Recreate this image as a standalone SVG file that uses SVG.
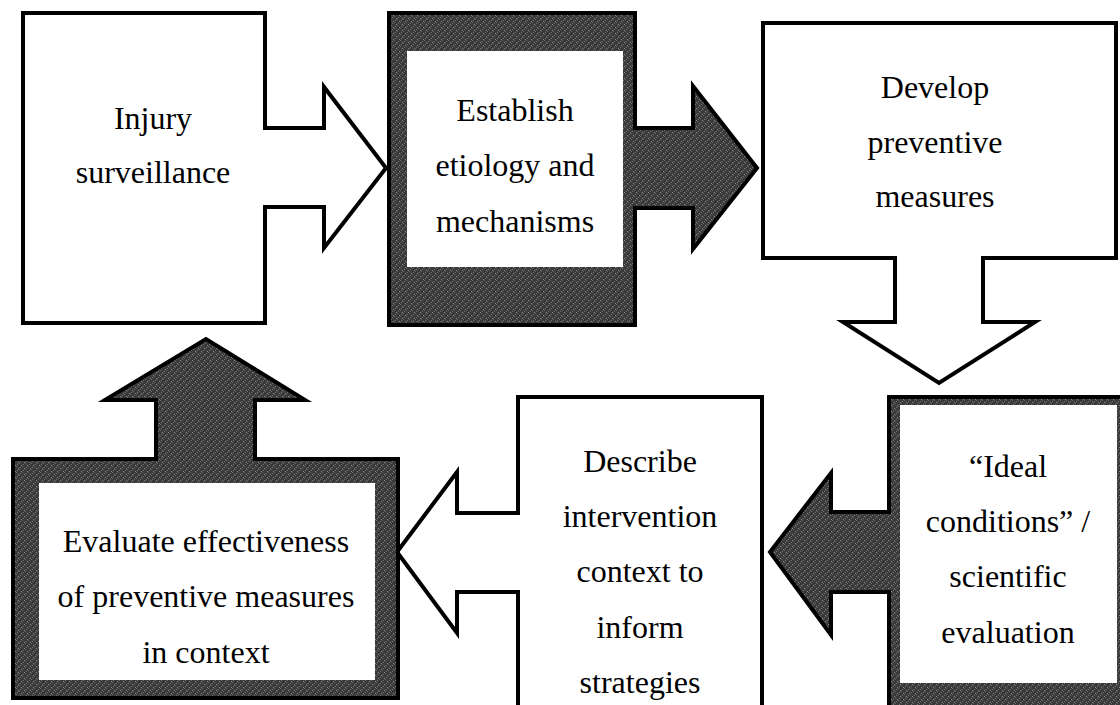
<svg xmlns="http://www.w3.org/2000/svg" width="1120" height="705" viewBox="0 0 1120 705">
<defs>
<pattern id="hatch" width="6" height="6" patternUnits="userSpaceOnUse">
<rect width="6" height="6" fill="#3a3a3a"/>
<rect x="0" y="0" width="1" height="1" fill="#8a8a8a"/>
<rect x="3" y="3" width="1" height="1" fill="#8a8a8a"/>
<rect x="1" y="1" width="1" height="1" fill="#666"/>
<rect x="4" y="4" width="1" height="1" fill="#666"/>
<rect x="2" y="5" width="1" height="1" fill="#777"/>
<rect x="5" y="2" width="1" height="1" fill="#777"/>
</pattern>
<style>
.shape{stroke:#000;stroke-width:4;stroke-linejoin:miter}
.white{fill:#fff}
.dark{fill:url(#hatch)}
.inner{fill:#fff;stroke:none}
</style>
</defs>
<rect width="1120" height="705" fill="#fff"/>

<g id="connectors"></g>

<g font-family="Liberation Serif, Times New Roman, DejaVu Serif, serif" font-size="32" fill="#000" text-anchor="middle">
<g id="node-injury-surveillance">
<path class="shape white" d="M23,13 H265 V128 H324 V87 L386,168 L324,248 V207 H265 V323 H23 Z"/>
<text x="153" y="129">Injury</text>
<text x="153" y="183">surveillance</text>
</g>

<g id="node-establish-etiology">
<path class="shape dark" d="M389,13 H635 V128 H693 V86 L757,168 L693,249 V208 H635 V325 H389 Z"/>
<rect class="inner" x="407" y="51" width="216" height="216"/>
<text x="515" y="121">Establish</text>
<text x="515" y="176">etiology and</text>
<text x="515" y="232">mechanisms</text>
</g>

<g id="node-develop-measures">
<path class="shape white" d="M763,23 H1116 V258 H983 V322 H1035 L939,383 L843,322 H895 V258 H763 Z"/>
<text x="935" y="98">Develop</text>
<text x="935" y="153">preventive</text>
<text x="935" y="207">measures</text>
</g>

<g id="node-ideal-conditions">
<path class="shape dark" d="M889,397 H1130 V715 H889 V592 H831 V635 L770,552 L831,473 V512 H889 Z"/>
<rect class="inner" x="900" y="405" width="217" height="278"/>
<text x="1008" y="477">“Ideal</text>
<text x="1008" y="532">conditions” /</text>
<text x="1008" y="587">scientific</text>
<text x="1008" y="643">evaluation</text>
</g>

<g id="node-describe-context">
<path class="shape white" d="M518,397 H762 V715 H518 V592 H457 V633 L397,552 L457,472 V513 H518 Z"/>
<text x="640" y="472">Describe</text>
<text x="640" y="527">intervention</text>
<text x="640" y="582">context to</text>
<text x="640" y="638">inform</text>
<text x="640" y="693">strategies</text>
</g>

<g id="node-evaluate-effectiveness">
<path class="shape dark" d="M13,459 H156 V400 H105 L206,339 L305,400 H255 V459 H398 V698 H13 Z"/>
<rect class="inner" x="39" y="483" width="336" height="197"/>
<text x="206" y="552">Evaluate effectiveness</text>
<text x="206" y="607">of preventive measures</text>
<text x="206" y="663">in context</text>
</g>
</g>
</svg>
